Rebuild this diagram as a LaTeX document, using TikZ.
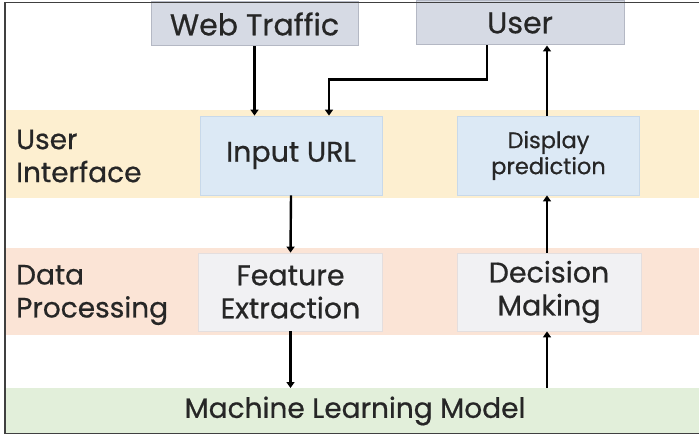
\documentclass[tikz,border=0pt]{standalone}
\usepackage{fontspec}
\setmainfont{Poppins}[FakeBold=0.6]
\usetikzlibrary{arrows.meta}
\definecolor{topfill}{HTML}{D6DAE4}
\definecolor{topline}{HTML}{B4B8C4}
\definecolor{uiband}{HTML}{FDEFD0}
\definecolor{bluefill}{HTML}{DCE9F5}
\definecolor{blueline}{HTML}{C8D9EA}
\definecolor{dpband}{HTML}{FBE4D6}
\definecolor{grayfill}{HTML}{F1F1F3}
\definecolor{grayline}{HTML}{E4DEDE}
\definecolor{mlband}{HTML}{E2EFDA}
\definecolor{txt}{HTML}{262626}
\begin{document}
\begin{tikzpicture}[x=1pt,y=-1pt,
  every node/.style={text=txt, inner sep=0pt, align=center},
  topbox/.style={fill=topfill, draw=topline, line width=1pt, minimum height=44pt,
    font=\fontsize{30}{36}\selectfont},
  bluebox/.style={fill=bluefill, draw=blueline, line width=0.8pt, minimum width=182pt, minimum height=79pt},
  graybox/.style={fill=grayfill, draw=grayline, line width=0.8pt, minimum width=184pt, minimum height=78pt,
    font=\fontsize{28.5}{33}\selectfont},
  band/.style={minimum width=700pt, anchor=north west},
  lbl/.style={anchor=west, align=left, font=\fontsize{28}{33}\selectfont},
  arr/.style={line width=2.4pt, -{Triangle[width=8pt,length=6pt]}}
]
\useasboundingbox (0,0) rectangle (699,436);
\fill[white] (0,0) rectangle (699,436);
% bands
\node[band, fill=uiband, minimum height=88pt] (uib) at (5,110) {};
\node[band, fill=dpband, minimum height=87pt] (dpb) at (5,248) {};
\node[band, fill=mlband, minimum height=46pt] (ml) at (5,388) {};
\node[font=\fontsize{28}{33}\selectfont] (mltext) at (355,411) {Machine Learning Model};
% labels
\node[lbl] (uilbl) at (16,156) {User\\Interface};
\node[lbl] (dplbl) at (16,295) {Data\\Processing};
% top boxes
\node[topbox, minimum width=207pt] (web) at (254.5,24) {Web Traffic};
\node[topbox, minimum width=208pt] (user) at (520,23) {User};
% UI boxes
\node[bluebox, font=\fontsize{28.5}{33}\selectfont] (input) at (291,155.5) {Input URL};
\node[bluebox, font=\fontsize{22.5}{26}\selectfont] (display) at (548.5,155.5) {Display\\prediction};
% DP boxes
\node[graybox] (feature) at (290.5,292) {Feature\\Extraction};
\node[graybox] (decision) at (549,292) {Decision\\Making};
% frame
\draw[line width=1.5pt, draw=black!75] (5,2.5) -- (5,433.5) -- (702,433.5);
\draw[line width=1.5pt, draw=black!75] (5,2.5) -- (702,2.5);
% arrows
\draw[arr] (web.south) -- (web.south |- input.north);
\draw[arr] ([xshift=-33pt]user.south) -- ++(0,34) -| ([xshift=38pt]input.north);
\draw[arr] ([xshift=-1.5pt]display.north) -- ([xshift=-1.5pt]display.north |- user.south);
\draw[arr] (input.south) -- (feature.north);
\draw[arr] (feature.south) -- (feature.south |- ml.north);
\draw[arr] ([xshift=-2pt]decision.south |- ml.north) -- ([xshift=-2pt]decision.south);
\draw[arr] ([xshift=-2pt]decision.north) -- ([xshift=-2pt]decision.north |- display.south);
\end{tikzpicture}
\end{document}
